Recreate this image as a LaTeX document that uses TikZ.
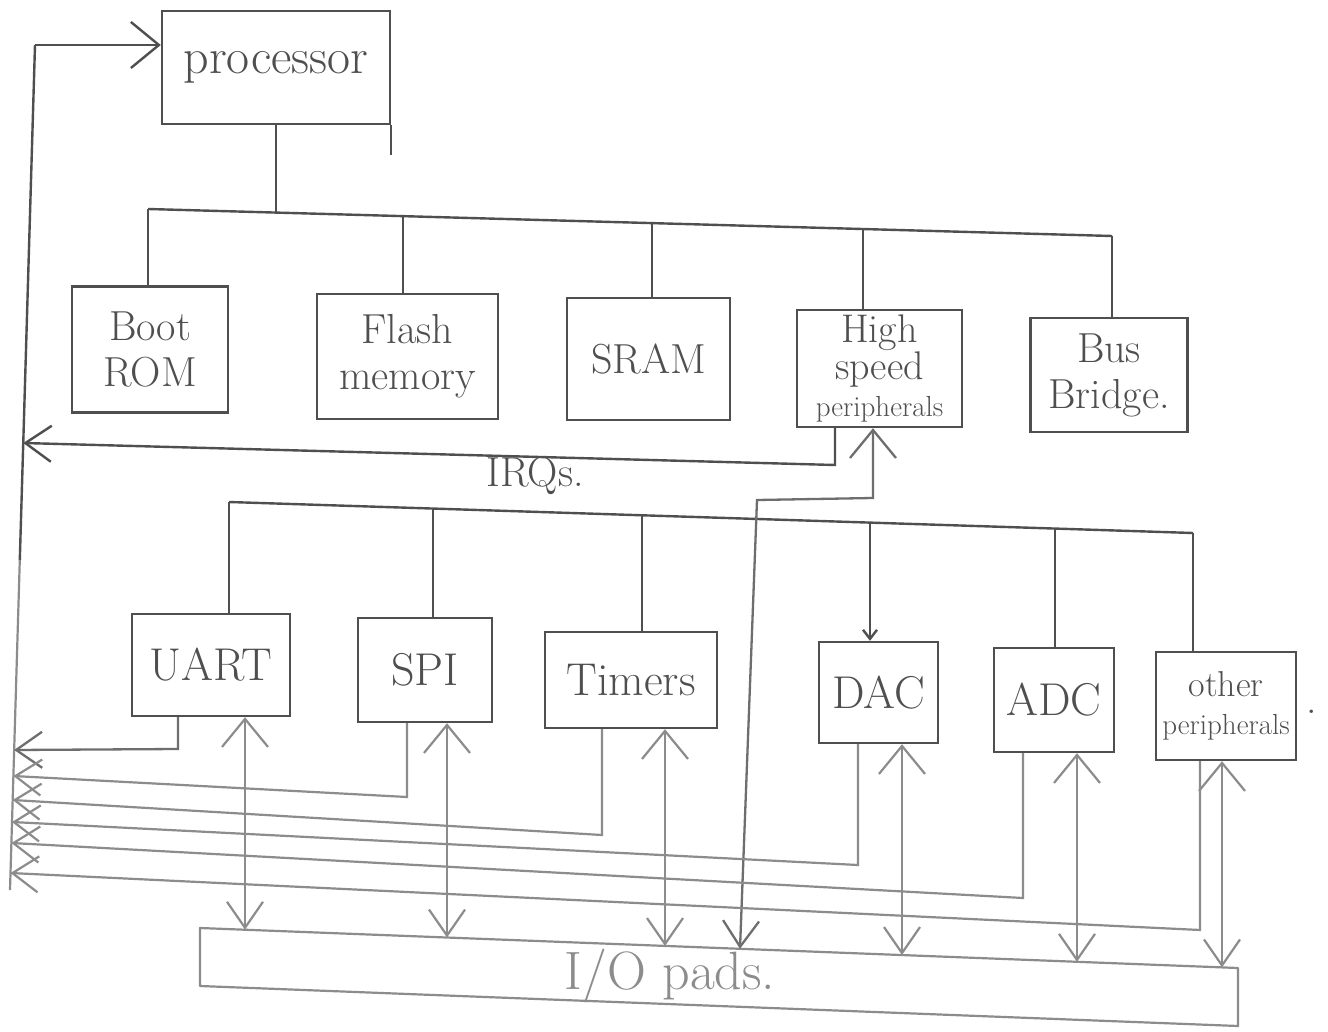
\documentclass[tikz,border=0pt]{standalone}
\usetikzlibrary{arrows.meta,calc}
\definecolor{inkd}{HTML}{4F4F4F}
\definecolor{inkm}{HTML}{6E6E6E}
\definecolor{inkl}{HTML}{8C8C8C}
\newcommand\labfont{\fontsize{42}{46}\selectfont}
\newcommand\bigfont{\fontsize{46}{50}\selectfont}
\newcommand\procfont{\fontsize{50}{54}\selectfont}
\newcommand\hspfont{\fontsize{40}{37}\selectfont}
\newcommand\perifont{\fontsize{29}{32}\selectfont}
\newcommand\othfont{\fontsize{36}{38}\selectfont}
\newcommand\irqfont{\fontsize{42}{46}\selectfont}
\newcommand\padfont{\fontsize{54}{58}\selectfont}
\tikzset{
  bigbarb/.tip={Straight Barb[length=28pt,width=46pt]},
  downbarb/.tip={Straight Barb[length=26pt,width=36pt]},
  irqbarb/.tip={Straight Barb[length=26pt,width=36pt]},
  tinybarb/.tip={Straight Barb[length=9pt,width=14pt]},
  box/.style={draw=inkd,line width=2.4pt,inner sep=2pt,align=center,text=inkd,font=\labfont},
  wire/.style={draw=inkd,line width=2.4pt},
  mwire/.style={draw=inkm,line width=2.3pt},
  lwire/.style={draw=inkl,line width=2.2pt},
  txt/.style={inner sep=0pt,text=inkd}
}
\begin{document}
\begin{tikzpicture}[x=1pt,y=-1pt]
\fill[white] (0,0) rectangle (1328,1032);
\useasboundingbox (0,0) rectangle (1328,1032);

% ---- boxes ----
\node[box,minimum width=228pt,minimum height=113pt,font=\procfont] (proc) at (276,67.5) {processor};
\node[box,minimum width=156pt,minimum height=126pt] (boot) at (150,349.5) {Boot\\ROM};
\node[box,minimum width=181pt,minimum height=125pt] (flash) at (407.5,356.5) {Flash\\memory};
\node[box,minimum width=163pt,minimum height=122pt] (sram) at (648.5,359) {SRAM};
\node[box,minimum width=165pt,minimum height=117pt,font=\hspfont] (hsp) at (879.5,368.5) {High\\speed\\\perifont peripherals};
\node[box,minimum width=157pt,minimum height=114pt] (bridge) at (1109,375) {Bus\\Bridge.};

\node[box,minimum width=158pt,minimum height=102pt,font=\bigfont] (uart) at (211,665) {UART};
\node[box,minimum width=134pt,minimum height=104pt,font=\bigfont] (spi) at (425,670) {SPI};
\node[box,minimum width=172pt,minimum height=96pt,font=\bigfont] (timers) at (631,680) {Timers};
\node[box,minimum width=119pt,minimum height=101pt,font=\bigfont] (dac) at (878.5,692.5) {DAC};
\node[box,minimum width=120pt,minimum height=104pt,font=\bigfont] (adc) at (1054,700) {ADC};
\node[box,minimum width=140pt,minimum height=108pt,font=\othfont] (other) at (1226,706) {other\\\perifont peripherals};
\node[txt,font=\labfont] (dot) at (1312,712) {.};

% ---- labels ----
\node[txt,font=\irqfont] (irq) at (535,476) {IRQs.};

% ---- I/O pads ----
\coordinate (P1) at (200,928);
\coordinate (P2) at (1238,968);
\coordinate (P3) at (1238,1026);
\coordinate (P4) at (200,986);
\draw[lwire,line join=round] (P1) -- (P2) -- (P3) -- (P4) -- cycle;
\node[txt,text=inkl,font=\padfont] (pads) at (670,976) {I/O pads.};

% ---- feedback line on the left ----
\coordinate (Ltop) at (35,45);
\coordinate (Lmid) at (19.8,560);
\coordinate (Lbot) at (10,890);
\draw[wire] (Ltop) -- (Lmid);
\draw[lwire] (Lmid) -- (Lbot);
\draw[wire,-{bigbarb}] (Ltop) -- (Ltop -| proc.west);
\draw[wire] (proc.south east) -- ++(0,30);

% ---- upper bus ----
\coordinate (ub0) at (276,212.6);
\coordinate (ub1) at (148,209);
\coordinate (ub2) at (403,216.1);
\coordinate (ub3) at (652,223.1);
\coordinate (ub4) at (863,229);
\coordinate (ub5) at (1112,236);
\draw[wire] (proc.south -| ub0) -- (ub0);
\draw[wire] (ub1) -- (ub5);
\foreach \c/\n in {ub1/boot,ub2/flash,ub3/sram,ub4/hsp,ub5/bridge}
  \draw[wire] (\c) -- (\c |- \n.north);

% ---- IRQ from high speed peripherals ----
\coordinate (q0) at (835,465);
\coordinate (t0) at (23.2,443);
\draw[wire,-{irqbarb}] (hsp.south -| q0) -- (q0) -- (t0);

% ---- lower bus ----
\coordinate (lb1) at (229,502);
\coordinate (lb2) at (433,508.6);
\coordinate (lb3) at (642,515.3);
\coordinate (lb4) at (870,522.6);
\coordinate (lb5) at (1055,528.6);
\coordinate (lb6) at (1193,533);
\draw[wire] (lb1) -- (lb6);
\foreach \c/\n in {lb1/uart,lb2/spi,lb3/timers,lb5/adc,lb6/other}
  \draw[wire] (\c) -- (\c |- \n.north);
\draw[wire,-{tinybarb}] (lb4) -- (lb4 |- dac.north);

% ---- high speed peripherals <-> pads ----
\coordinate (h1) at (873,498);
\coordinate (h2) at (757,500);
\coordinate (pio4) at (740,948.8);
\draw[mwire,{downbarb}-{bigbarb}] (pio4) -- (h2) -- (h1) -- (h1 |- hsp.south);

% ---- lower IRQ lines ----
\coordinate (c1) at (178,749);   \coordinate (t1) at (14.1,750);
\coordinate (c2) at (407,797);   \coordinate (t2) at (13.4,776);
\coordinate (c3) at (602,835);   \coordinate (t3) at (12.7,800);
\coordinate (c4) at (858,865);   \coordinate (t4) at (12,822);
\coordinate (c5) at (1023,898);  \coordinate (t5) at (11.4,843);
\coordinate (c6) at (1200,930);  \coordinate (t6) at (10.5,873);
\draw[mwire,-{irqbarb}] (uart.south -| c1) -- (c1) -- (t1);
\foreach \n/\k in {spi/2,timers/3,dac/4,adc/5,other/6}
  \draw[lwire,-{irqbarb}] (\n.south -| c\k) -- (c\k) -- (t\k);

% ---- I/O arrows ----
\coordinate (pio1) at (245,929.7);
\coordinate (pio2) at (447,937.5);
\coordinate (pio3) at (665,946);
\coordinate (pio5) at (902,955);
\coordinate (pio6) at (1077,961.8);
\coordinate (pio7) at (1222,967.4);
\foreach \p/\n in {pio1/uart,pio2/spi,pio3/timers,pio5/dac,pio6/adc,pio7/other}
  \draw[lwire,{downbarb}-{bigbarb}] (\p) -- (\p |- \n.south);
\end{tikzpicture}
\end{document}
